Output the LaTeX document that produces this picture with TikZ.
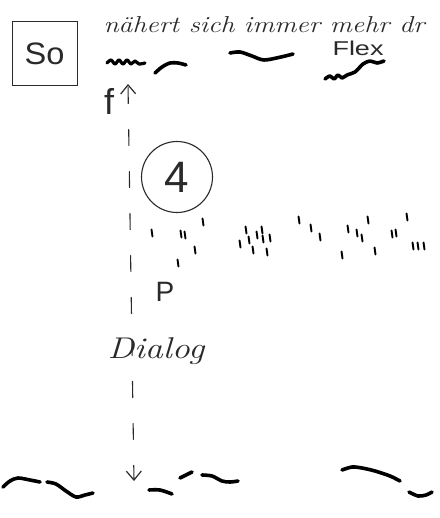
\documentclass[tikz,border=0pt]{standalone}
\usepackage{fontspec}
\usepackage{graphicx}
\newfontfamily\sansh{Liberation Sans}
\usetikzlibrary{arrows.meta}
\definecolor{ink}{HTML}{2A2A2A}
\begin{document}
\begin{tikzpicture}[x=1pt,y=-1pt,
  pen/.style={draw=ink, line width=1.1pt, line cap=round},
  squig/.style={draw=black, line width=3.6pt, line cap=round, line join=round},
  tick/.style={draw=black, line width=1.9pt, line cap=round},
  hand/.style={text=ink, inner sep=0pt},
  tipb/.tip={Straight Barb[length=9pt,width=15pt,line width=1.2pt]}]
\useasboundingbox[fill=white] (0,0) rectangle (439,518);

% box So
\node[hand, draw=ink, line width=1pt, minimum width=65pt, minimum height=64pt,
      font=\sansh\fontsize{31}{31}\selectfont] (so) at (44.5,54) {\scalebox{1.05}[1]{So}};

% heading text
\node[hand, font=\itshape\fontsize{23}{23}\selectfont] (txt) at (264,25)
  {\scalebox{1.2}[1]{nähert sich immer mehr dr}};
\node[hand, font=\sansh\fontsize{20}{20}\selectfont] (flex) at (358,48) {\scalebox{1.35}[1]{Flex}};

% top squiggles
\draw[squig, line width=3.2pt] plot[smooth] coordinates {(107,63) (111,60) (115,64) (119,60) (123,64) (127,60) (131,64) (135,61) (139,64) (145,63)};
\draw[squig] plot[smooth] coordinates {(155,73) (162,67) (170,63) (178,63) (186,65)};
\draw[squig] plot[smooth] coordinates {(230,53) (240,52) (252,56) (264,60) (281,57) (293,54)};
\draw[squig] plot[smooth] coordinates {(325,79) (330,76) (334,79) (338,75) (342,78) (347,75) (355,72) (363,64) (370,61) (377,63) (384,61)};

% f and arrow line
\node[hand, font=\sansh\fontsize{36}{36}\selectfont] (f) at (109,101) {f};
\coordinate (top) at (128,84);
\coordinate (bot) at (134,481);
\draw[pen, dash pattern=on 16pt off 26pt, dash phase=40pt, tipb-tipb] (top) -- (bot);

% circle 4
\node[hand, circle, draw=ink, line width=1.1pt, minimum size=71pt,
      font=\sansh\fontsize{44}{44}\selectfont] (four) at (177,177) {4};

% staccato marks
\foreach \x/\y in {152/233,181/234,185/235,195/250,203/222,178/263,
  240/244,246/230,249/240,253/250,257/235,262/230,263/239,267/252,270/238,
  299/220,311/228,320/237,
  342/255,348/229,357/233,362/238,368/220,375/251,
  392/234,396/233,407/217,413/246,418/246,424/246}
  \draw[tick] ({\x-0.5},{\y-3.5}) -- ({\x+0.5},{\y+3.5});

\node[hand, font=\sansh\fontsize{28}{28}\selectfont] (p) at (165,292) {P};
\node[hand, font=\itshape\fontsize{30}{30}\selectfont] (dialog) at (156,351)
  {\scalebox{1.2}[1]{Dialog}};

% bottom squiggles
\draw[squig] plot[smooth] coordinates {(3,487) (10,481) (18,478) (30,480) (40,482)};
\draw[squig] plot[smooth] coordinates {(47,482) (56,484) (66,491) (76,497) (85,495) (93,493)};
\draw[squig] plot[smooth] coordinates {(149,490) (160,490) (172,494)};
\draw[squig] plot[smooth] coordinates {(180,478) (192,472)};
\draw[squig] plot[smooth] coordinates {(202,475) (212,476) (222,481) (230,482) (238,481)};
\draw[squig] plot[smooth] coordinates {(342,470) (352,467) (362,468) (375,471) (390,476) (400,481)};
\draw[squig] plot[smooth] coordinates {(409,492) (418,496) (426,495) (432,492)};
\end{tikzpicture}
\end{document}
